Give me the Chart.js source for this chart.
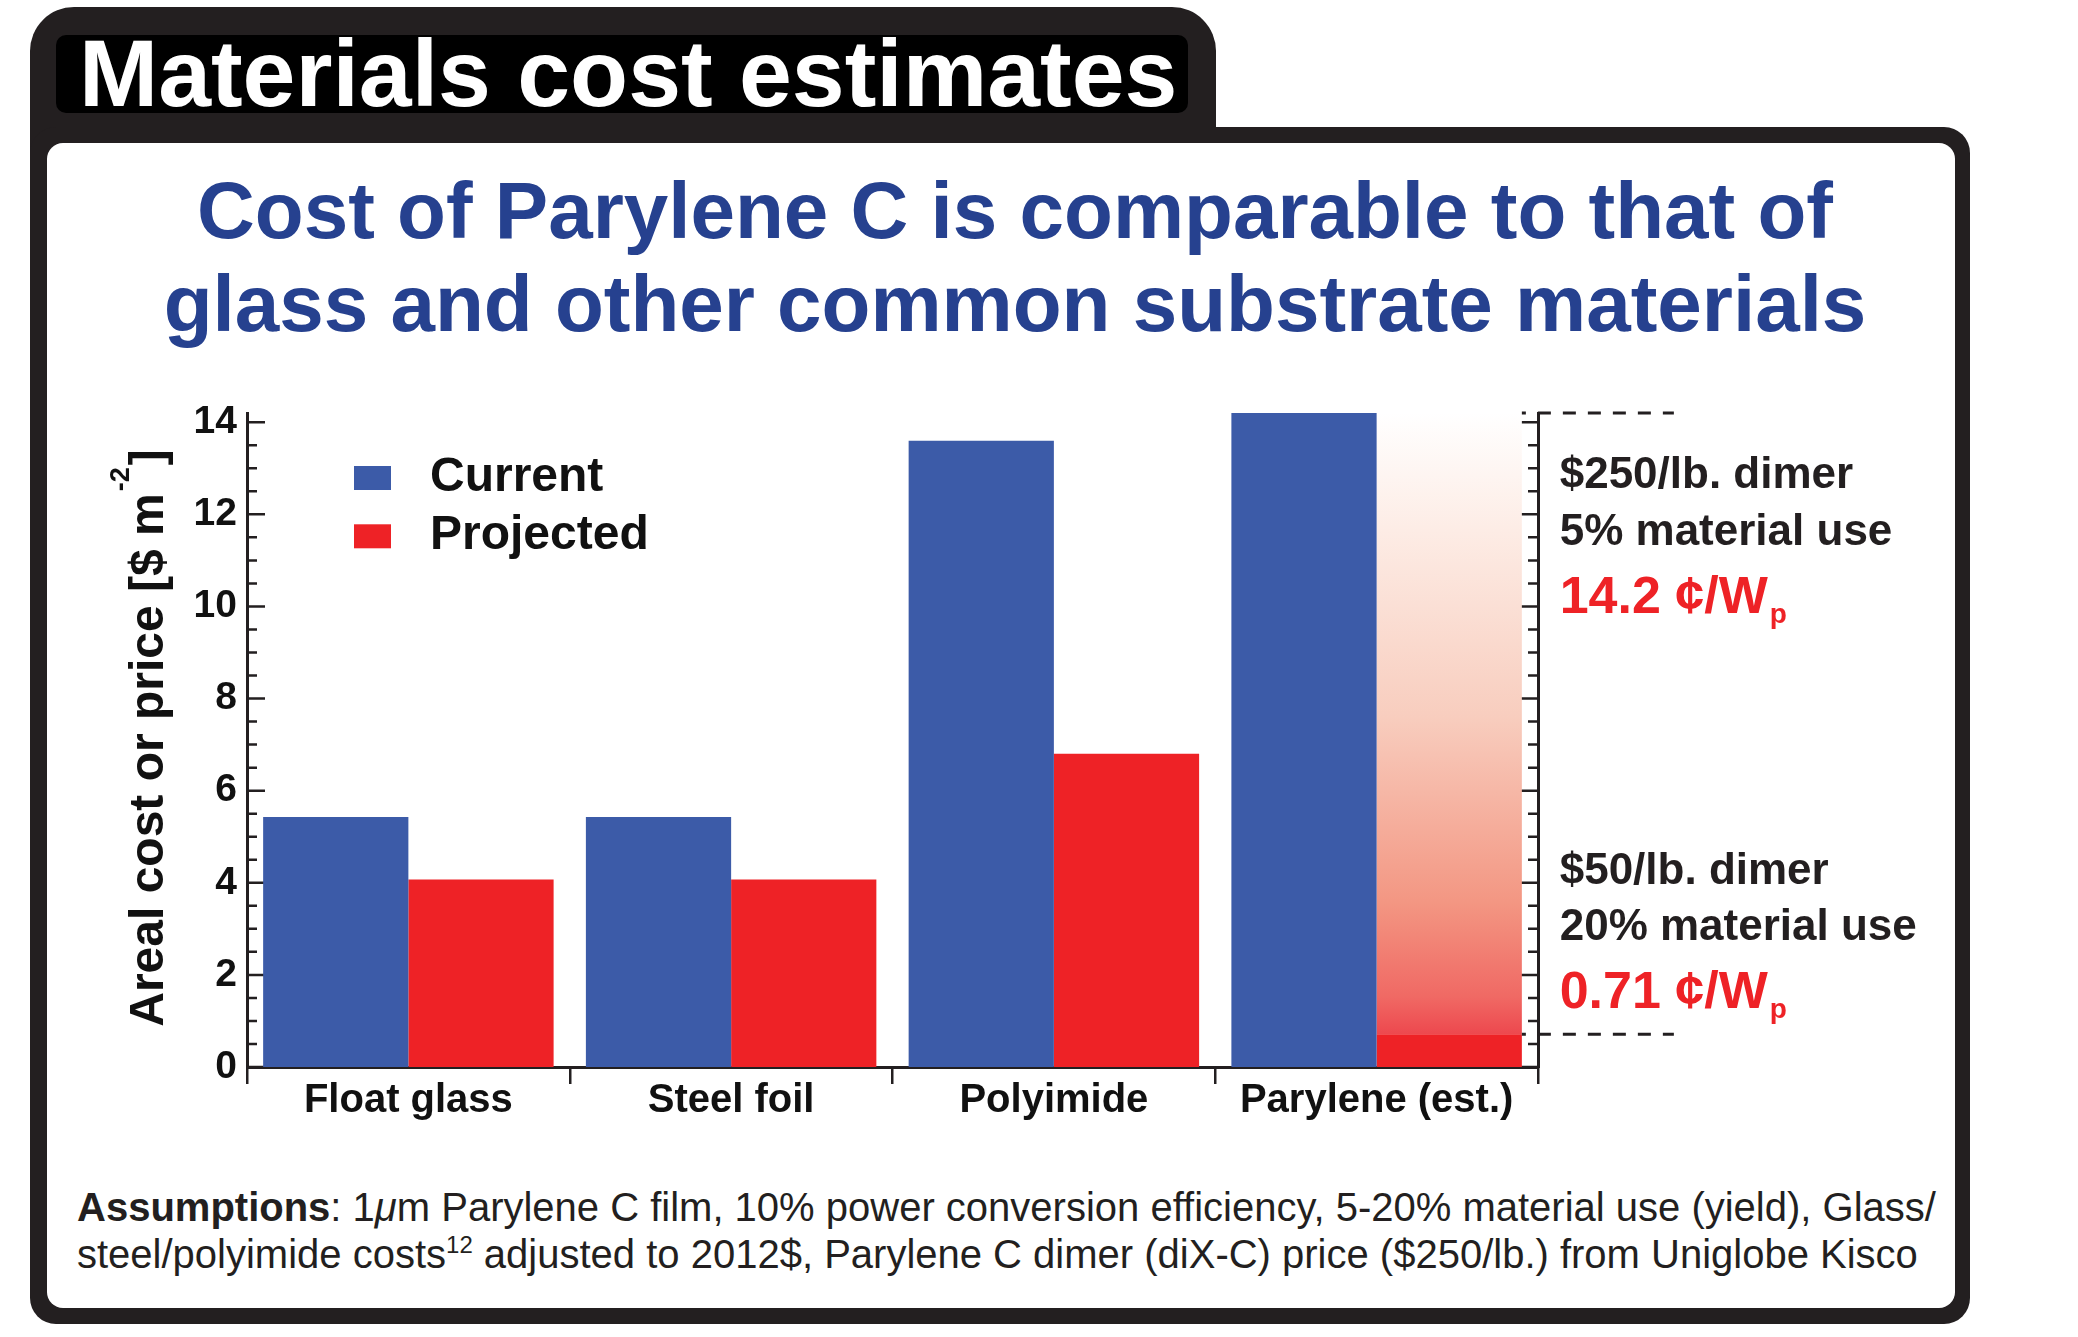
<!DOCTYPE html>
<html>
<head>
<meta charset="utf-8">
<title>Materials cost estimates</title>
<script src="https://cdn.jsdelivr.net/npm/chart.js@4.4.1/dist/chart.umd.min.js"></script>
<style>
  html, body { margin: 0; padding: 0; background: #fff; }
  body { width: 2078px; height: 1337px; position: relative; overflow: hidden;
         font-family: 'Liberation Sans', Arial, Helvetica, sans-serif; }
  #tab { position: absolute; left: 30px; top: 7px; width: 1186px; height: 150px;
         background: #231f20; border-radius: 44px 44px 0 0; }
  #tabText { position: absolute; left: 26px; top: 28px; width: 1132px; height: 78px;
             background: #000; border-radius: 10px; }
  #tabText span { position: absolute; left: 23px; top: -9px; color: #fff; font-weight: bold;
                  font-size: 95px; line-height: 95px; white-space: nowrap; }
  #frame { position: absolute; left: 30px; top: 127px; width: 1940px; height: 1197px;
           background: #231f20; border-radius: 26px; }
  #panel { position: absolute; left: 47px; top: 143px; width: 1908px; height: 1165px;
           background: #fff; border-radius: 16px; }
  #title { position: absolute; left: 0; top: 165px; width: 2030px; text-align: center;
           font-weight: bold; font-size: 80px; line-height: 92.5px; color: #26418f; white-space: nowrap; }
  #notes { position: absolute; left: 77px; top: 1184px; font-size: 40px; line-height: 47px;
           color: #231f20; white-space: nowrap; }
  #notes sup { font-size: 24px; line-height: 0; vertical-align: 15px; }
  #chart { position: absolute; left: 0; top: 0; z-index: 3; }
</style>
</head>
<body>
<div id="tab"><div id="tabText"><span>Materials cost estimates</span></div></div>
<div id="frame"></div>
<div id="panel"></div>
<div id="title">Cost of Parylene C is comparable to that of<br>glass and other common substrate materials</div>
<div id="notes"><b>Assumptions</b>: 1<i>μ</i>m Parylene C film, 10% power conversion efficiency, 5-20% material use (yield), Glass/<br>steel/polyimide costs<sup>12</sup> adjusted to 2012$, Parylene C dimer (diX-C) price ($250/lb.) from Uniglobe Kisco</div>
<canvas id="chart" width="2078" height="1337"></canvas>

<script>
// areal cost or price, $ per m2
const categories = ['Float glass', 'Steel foil', 'Polyimide', 'Parylene (est.)'];
const currentCost = [5.43, 5.43, 13.6, 14.2];
const projectedCost = [4.07, 4.07, 6.8, 0.71];
// parylene projection: $50/lb @ 20% use (low) up to $250/lb @ 5% use (high)
const parylRange = [0.71, 14.2];
const rangeNotes = [
    ['$50/lb. dimer', '20% material use'],
    ['$250/lb. dimer', '5% material use']
];

const font = "'Liberation Sans', Arial, Helvetica, sans-serif";
const ink = '#231f20';
const blue = '#3c5ba8';
const red = '#ee2226';

// fade from red at the low estimate to white at the high one
function rangeFill(context) {
    const chart = context.chart;
    if (!chart.chartArea) return 'rgba(238,34,38,0.4)';
    const y = chart.scales.y;
    const g = chart.ctx.createLinearGradient(0, y.getPixelForValue(parylRange[0]), 0, y.getPixelForValue(parylRange[1]));
    g.addColorStop(0, 'rgb(237,72,78)');
    g.addColorStop(0.06, 'rgb(240,105,100)');
    g.addColorStop(0.21, 'rgb(243,150,130)');
    g.addColorStop(0.51, 'rgb(248,205,190)');
    g.addColorStop(0.81, 'rgb(253,236,229)');
    g.addColorStop(1, 'rgb(255,255,255)');
    return g;
}

// inward ticks, legend, rotated axis title, dashed markers and side notes
const decor = {
    id: 'decor',
    beforeDatasetsDraw(chart) {
        const {ctx, chartArea: a, scales} = chart;
        ctx.save();
        ctx.strokeStyle = ink;
        ctx.lineWidth = 2.5;
        scales.y.ticks.forEach(t => {
            const py = scales.y.getPixelForValue(t.value);
            const len = t.value % 2 === 0 ? 18 : 10;
            ctx.beginPath();
            ctx.moveTo(a.left, py);
            ctx.lineTo(a.left + len, py);
            ctx.moveTo(a.right, py);
            ctx.lineTo(a.right - len, py);
            ctx.stroke();
        });
        ctx.restore();
    },
    afterDraw(chart) {
        const {ctx, chartArea: a, scales} = chart;
        const y = scales.y;
        ctx.save();
        ctx.textBaseline = 'alphabetic';
        ctx.textAlign = 'left';

        // legend
        chart.data.datasets.slice(0, 2).forEach((ds, i) => {
            const top = a.top + 53 + i * 58.3;
            ctx.fillStyle = ds.backgroundColor;
            ctx.fillRect(a.left + 107, top, 37, 24);
            ctx.fillStyle = '#111';
            ctx.font = 'bold 48px ' + font;
            ctx.fillText(ds.label, a.left + 183, top + 25);
        });

        // y axis title with superscript
        ctx.save();
        ctx.translate(a.left - 84, (a.top + a.bottom) / 2);
        ctx.rotate(-Math.PI / 2);
        const main = 'Areal cost or price [$ m', sup = '-2', tail = ']';
        ctx.font = 'bold 48px ' + font;
        const w1 = ctx.measureText(main).width, w3 = ctx.measureText(tail).width;
        ctx.font = 'bold 27px ' + font;
        const w2 = ctx.measureText(sup).width;
        let x = -(w1 + w2 + w3) / 2;
        ctx.fillStyle = '#111';
        ctx.font = 'bold 48px ' + font;
        ctx.fillText(main, x, 0);
        x += w1 + 2;
        ctx.font = 'bold 27px ' + font;
        ctx.fillText(sup, x, -34);
        x += w2 + 2;
        ctx.font = 'bold 48px ' + font;
        ctx.fillText(tail, x, 0);
        ctx.restore();

        // dashed markers at both ends of the parylene range
        const bar = chart.getDatasetMeta(2).data[3];
        const x0 = bar.x + bar.width / 2;
        ctx.strokeStyle = ink;
        ctx.lineWidth = 3;
        ctx.setLineDash([13, 12]);
        ctx.lineDashOffset = 9;
        parylRange.forEach(v => {
            const py = y.getPixelForValue(v);
            ctx.beginPath();
            ctx.moveTo(x0, py);
            ctx.lineTo(x0 + 152, py);
            ctx.stroke();
        });
        ctx.setLineDash([]);

        // notes beside the right axis (cents per peak watt = $/m2 at 10% efficiency)
        const nx = a.right + 21.7;
        const blocks = [
            {lines: rangeNotes[1], price: parylRange[1].toFixed(1), base: a.top + 74.8},
            {lines: rangeNotes[0], price: parylRange[0].toFixed(2), base: a.top + 470.5}
        ];
        blocks.forEach(b => {
            ctx.fillStyle = ink;
            ctx.font = 'bold 44px ' + font;
            ctx.fillText(b.lines[0], nx, b.base);
            ctx.fillText(b.lines[1], nx, b.base + 56.8);
            ctx.fillStyle = red;
            ctx.font = 'bold 52px ' + font;
            const txt = b.price + ' ¢/W';
            ctx.fillText(txt, nx, b.base + 124.7);
            const tw = ctx.measureText(txt).width;
            ctx.font = 'bold 28px ' + font;
            ctx.fillText('p', nx + tw + 2, b.base + 134.7);
        });
        ctx.restore();
    }
};

new Chart(document.getElementById('chart'), {
    type: 'bar',
    data: {
        labels: categories,
        datasets: [
            { label: 'Current', data: currentCost, backgroundColor: blue, stack: 'current' },
            { label: 'Projected', data: projectedCost, backgroundColor: red, stack: 'projected' },
            { label: 'Projected range', data: categories.map((c, i) => i === 3 ? parylRange : null),
              backgroundColor: rangeFill, stack: 'projected' }
        ]
    },
    options: {
        responsive: false,
        animation: false,
        devicePixelRatio: 1,
        layout: { padding: { left: 137, top: 413, right: 519, bottom: 210 } },
        datasets: { bar: { categoryPercentage: 0.9, barPercentage: 1.0 } },
        plugins: { legend: { display: false }, tooltip: { enabled: false } },
        scales: {
            x: {
                grid: { display: true, drawOnChartArea: false, drawTicks: true, tickLength: 17,
                        color: ink, lineWidth: 2.5, offset: true },
                border: { color: ink, width: 3 },
                ticks: { color: '#111', font: { family: font, size: 40, weight: 'bold' },
                         padding: -7, maxRotation: 0, autoSkip: false },
                afterFit(s) { s.height = 60; }
            },
            y: {
                min: 0, max: 14.2, stacked: false,
                grid: { display: false, drawTicks: false },
                border: { color: ink, width: 3 },
                ticks: { stepSize: 0.5, includeBounds: false, autoSkip: false, padding: 10,
                         color: '#111', font: { family: font, size: 39, weight: 'bold' },
                         callback: v => v % 2 === 0 ? v : '' },
                afterFit(s) { s.width = 110; }
            },
            y2: {
                position: 'right', min: 0, max: 14.2,
                grid: { display: false, drawTicks: false },
                border: { color: ink, width: 3 },
                ticks: { display: false },
                afterFit(s) { s.width = 21; }
            }
        }
    },
    plugins: [decor]
});
</script>
</body>
</html>
